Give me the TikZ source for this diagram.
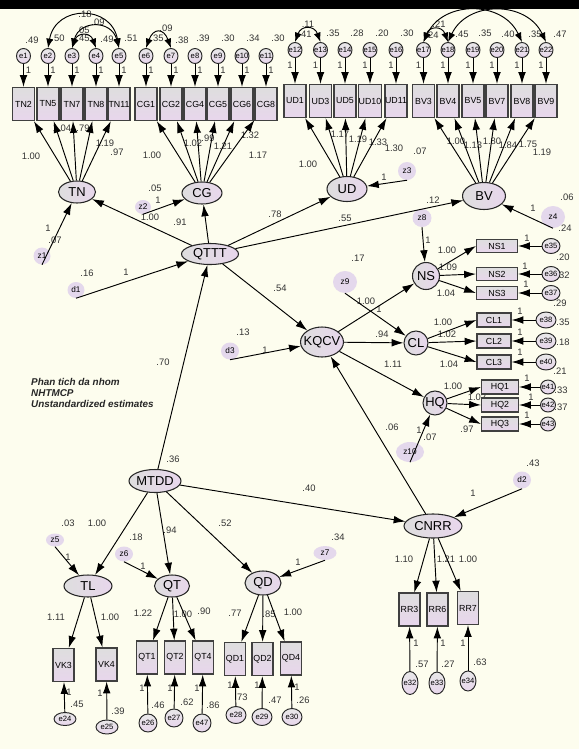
\documentclass[tikz,border=0pt]{standalone}
\usepackage{fontspec}
\setmainfont{Liberation Sans}
\usetikzlibrary{shapes.geometric,arrows.meta}
\definecolor{bgc}{RGB}{253,253,238}
\definecolor{lav}{RGB}{232,214,236}
\definecolor{gry}{RGB}{222,222,222}
\definecolor{blob}{RGB}{228,216,236}
\def\pxu{0.85pt}

\begin{document}
\begin{tikzpicture}[
    x=0.85pt,
    y=-0.85pt,
    lat/.style={ellipse,draw=black!85,line width=0.9pt,left color=gry,right color=lav,
        inner sep=0pt,inner xsep=-3pt,font=\fontsize{11}{12}\selectfont},
    fac/.style={circle,draw=black!85,line width=0.9pt,left color=gry,right color=lav,
        inner sep=0pt,font=\fontsize{11}{12}\selectfont},
    obs/.style={rectangle,draw=black!75,line width=1pt,top color=gry,bottom color=lav,
        inner sep=0pt,font=\fontsize{7.5}{8}\selectfont},
    err/.style={ellipse,draw=black!85,line width=0.8pt,top color=gry!70,bottom color=lav,
        inner sep=0pt,inner xsep=-2pt,font=\fontsize{6.5}{7}\selectfont},
    res/.style={ellipse,fill=blob,inner sep=0pt,font=\fontsize{7}{8}\selectfont},
    sz/.style 2 args={minimum width=#1*\pxu,minimum height=#2*\pxu},
    num/.style={inner sep=0pt,text=black!80,font=\fontsize{8}{9}\selectfont},
    reg/.style={-{Latex[length=10pt,width=6.5pt]},line width=0.8pt},
    cov/.style={{Latex[length=8pt,width=6pt]}-{Latex[length=8pt,width=6pt]},line width=0.8pt}
]
\fill[bgc] (0,0) rectangle (579,749);
\fill[black] (0,0) rectangle (579,9);
\useasboundingbox (0,0) rectangle (579,749);

% estimates
\foreach \t/\x/\y [count=\k] in {
    .18/85/14,.09/98/22,.05/83/30,
    .49/32/40,.50/58/38,.45/83/38,.49/107/39,.51/131/38,
    .35/157/38,.09/166/28,.38/182/40,.39/203/38,.30/228/38,.34/253/38,.30/278/38,
    .11/308/24,.41/305/34,.35/333/33,.28/357/33,.20/382/33,.30/407/33,
    .21/439/24,.24/432/35,.45/462/34,.35/485/33,.40/508/34,.35/535/34,.47/560/34,
    1.00/31/156,1.04/62/128,.79/83/128,1.19/105/143,.97/117/152,
    1.00/152/155,1.02/193/143,.99/208/138,1.21/223/146,1.32/250/135,1.17/258/155,
    1.00/308/164,1.17/340/134,1.19/358/139,1.33/378/142,1.30/394/148,
    1.00/456/141,1.13/473/145,1.80/492/141,1.84/508/145,1.75/528/144,1.19/542/152,
    .91/180/222,.78/275/214,.55/345/218,.12/433/200,.54/280/288,
    .16/87/273,1/126/272,.05/155/188,1/158/200,1.00/150/217,1/48/228,.07/55/240,
    .07/420/151,1/384/177,.06/567/197,1/533/208,.24/565/228,1/428/240,.17/358/258,
    1.00/366/301,1/379/309,.94/382/334,1.11/393/364,.13/243/332,1/265/350,
    .70/163/362,.36/173/459,.06/392/427,1/419/430,.07/430/437,
    .40/309/488,.43/533/463,1/473/493,
    1.00/97/523,.94/170/530,.52/225/523,.03/68/523,1/68/557,.18/136/537,1/143/566,
    .34/338/537,1/298/562,1.10/404/559,1.21/446/559,1.00/468/559,
    1.00/447/250,1.09/448/267,1.04/446/293,1/527/238,1/525/266,1/526/284,
    .20/563/257,.32/563/275,.29/560/303,
    1.00/443/322,1.02/447/334,1.04/449/364,1/520/311,1/520/332,1/520/352,
    .35/563/322,.18/563/342,.21/560/371,
    1.00/453/386,1.02/477/397,.97/467/429,1/527/378,1/531/397,1/527/415,
    .33/561/390,.37/561/407,
    1.11/56/617,1.00/110/617,1.22/143/613,1.00/183/614,.90/204/611,
    .77/235/613,.85/269/614,1.00/293/612,
    1/69/692,.45/77/704,1/100/693,.39/118/711,1/142/688,.46/158/705,
    1/170/688,.62/187/702,1/197/688,.86/213/705,1/230/685,.73/241/697,
    1/257/685,.47/275/700,1/297/687,.26/303/700,
    1/416/643,.57/422/664,1/443/643,.27/448/664,1/463/643,.63/480/662} {
    \node[num] (n\k) at (\x,\y) {\t};
}

\node[inner sep=0pt,anchor=west,align=left,text=black!85,
    font=\fontsize{8.4}{9.4}\selectfont\bfseries\itshape] (title) at (31,393)
    {Phan tich da nhom\\NHTMCP\\Unstandardized estimates};

% top indicators
\foreach \n/\x [count=\i] in {TN2/23.5,TN5/48,TN7/72,TN8/96,TN11/119,
    CG1/146,CG2/171,CG4/195,CG5/218,CG6/242,CG8/266} {
    \node[obs,sz={22}{33}] (\n) at (\x,104) {\n};
    \node[err,sz={14}{15}] (e\i) at (\x,56) {e\i};
    \node[num] (w\i) at (\x+5,70) {1};
    \draw[reg] (e\i) -- (\n);
}
\foreach \n/\x [count=\i from 12] in {UD1/295,UD3/320.5,UD5/345,UD10/370,UD11/396,
    BV3/423.5,BV4/448,BV5/473,BV7/497,BV8/522,BV9/546} {
    \node[obs,sz={22}{33}] (\n) at (\x,101) {\n};
    \node[err,sz={14}{15}] (e\i) at (\x,50) {e\i};
    \node[num] (w\i) at (\x-5,65) {1};
    \draw[reg] (e\i) -- (\n);
}

\draw[cov] (e2.north) to[out=80,in=100,looseness=1.6] (e5.north);
\draw[cov] (e3.north) to[out=75,in=105,looseness=1.6] (e5.north);
\draw[cov] (e3.north) to[out=70,in=110,looseness=1.8] (e4.north);
\draw[cov] (e6.north) to[out=70,in=110,looseness=2.2] (e7.north);
\draw[cov] (e12.north) to[out=70,in=110,looseness=1.8] (e13.north);
\draw[cov] (e17.north) to[out=70,in=110,looseness=1.8] (e18.north);
\draw[cov] (e17.north) to[out=65,in=115,looseness=1.2] (e21.north);
\draw[cov] (e18.north) to[out=65,in=115,looseness=1.2] (e22.north);

% latent variables
\node[lat,sz={37}{22}] (TN) at (77,192) {TN};
\node[lat,sz={40}{22}] (CG) at (202,193) {CG};
\node[lat,sz={40}{25}] (UD) at (347,189) {UD};
\node[lat,sz={43}{27}] (BV) at (484,196) {BV};
\node[lat,sz={57}{21}] (QTTT) at (210,254) {QTTT};
\node[lat,sz={43}{30}] (KQCV) at (322,342) {KQCV};
\node[fac,minimum size=27*\pxu] (NS) at (426,276) {NS};
\node[fac,minimum size=24*\pxu] (CL) at (416,343) {CL};
\node[fac,minimum size=24*\pxu] (HQ) at (435,403) {HQ};
\node[lat,sz={52}{23}] (MTDD) at (155,481) {MTDD};
\node[lat,sz={58}{24}] (CNRR) at (433,526) {CNRR};
\node[lat,sz={48}{22}] (TL) at (88,586) {TL};
\node[lat,sz={35}{22}] (QT) at (172,586) {QT};
\node[lat,sz={36}{24}] (QD) at (263,583) {QD};

% disturbances
\node[res,sz={17}{17}] (z1) at (42,256) {z1};
\node[res,sz={16}{14}] (z2) at (143,207) {z2};
\node[res,sz={17}{16}] (d1) at (76,290) {d1};
\node[res,sz={18}{18}] (z3) at (407,171) {z3};
\node[res,sz={24}{22}] (z4) at (553,217) {z4};
\node[res,sz={19}{18}] (z8) at (422,218) {z8};
\node[res,sz={24}{22}] (z9) at (345,282) {z9};
\node[res,sz={28}{20}] (z10) at (410,452) {z10};
\node[res,sz={18}{17}] (d3) at (230,351) {d3};
\node[res,sz={18}{17}] (d2) at (522,480) {d2};
\node[res,sz={18}{13}] (z5) at (55,540) {z5};
\node[res,sz={18}{15}] (z6) at (124,554) {z6};
\node[res,sz={23}{14}] (z7) at (325,553) {z7};

% right indicators
\foreach \n/\e/\y in {NS1/e35/246,NS2/e36/274,NS3/e37/293} {
    \node[obs,sz={41}{13}] (\n) at (497,\y) {\n};
    \node[err,sz={18}{15}] (\e) at (551,\y) {\e};
    \draw[reg] (NS) -- (\n.west);
    \draw[reg] (\e) -- (\n);
}
\foreach \n/\e/\y in {CL1/e38/320,CL2/e39/341,CL3/e40/362} {
    \node[obs,sz={34}{14}] (\n) at (494,\y) {\n};
    \node[err,sz={20}{16}] (\e) at (546,\y) {\e};
    \draw[reg] (CL) -- (\n.west);
    \draw[reg] (\e) -- (\n);
}
\foreach \n/\e/\y in {HQ1/e41/387,HQ2/e42/405,HQ3/e43/424} {
    \node[obs,sz={37}{14}] (\n) at (500,\y) {\n};
    \node[err,sz={15}{14}] (\e) at (548,\y) {\e};
    \draw[reg] (HQ) -- (\n.west);
    \draw[reg] (\e) -- (\n);
}

% bottom indicators
\foreach \n/\x/\y/\e/\ex/\ey/\ew/\eh in {
    VK3/63.5/665/e24/65/719/22/13, VK4/106.5/664.5/e25/107/727/22/14,
    QT1/147/657.5/e26/148/723/18/18, QT2/175/657.5/e27/174/718/18/18,
    QT4/203/657.5/e47/202/723/18/18, QD1/235/659/e28/236/715/20/17,
    QD2/262.5/659/e29/262/717/20/17, QD4/291/658.5/e30/292/717/20/17,
    RR3/409.5/609.5/e32/410/683/16/23, RR6/437.5/609.5/e33/437/683/16/22,
    RR7/468/608/e34/468/681/16/20} {
    \node[obs,sz={21}{33}] (\n) at (\x,\y) {\n};
    \node[err,sz={\ew}{\eh}] (\e) at (\ex,\ey) {\e};
    \draw[reg] (\e) -- (\n);
}

% loadings
\foreach \n in {TN2,TN5,TN7,TN8,TN11} {\draw[reg] (TN) -- (\n);}
\foreach \n in {CG1,CG2,CG4,CG5,CG6,CG8} {\draw[reg] (CG) -- (\n);}
\foreach \n in {UD1,UD3,UD5,UD10,UD11} {\draw[reg] (UD) -- (\n);}
\foreach \n in {BV3,BV4,BV5,BV7,BV8,BV9} {\draw[reg] (BV) -- (\n);}
\foreach \n in {VK3,VK4} {\draw[reg] (TL) -- (\n);}
\foreach \n in {QT1,QT2,QT4} {\draw[reg] (QT) -- (\n);}
\foreach \n in {QD1,QD2,QD4} {\draw[reg] (QD) -- (\n);}
\foreach \n in {RR3,RR6,RR7} {\draw[reg] (CNRR) -- (\n);}

% structural paths
\foreach \n in {TN,CG,UD,BV,KQCV} {\draw[reg] (QTTT) -- (\n);}
\foreach \n in {NS,CL,HQ} {\draw[reg] (KQCV) -- (\n);}
\foreach \n in {QTTT,CNRR,TL,QT,QD} {\draw[reg] (MTDD) -- (\n);}
\draw[reg] (CNRR) -- (KQCV);
\foreach \z/\n in {z1/TN,z2/CG,z3/UD,z4/BV,d1/QTTT,d3/KQCV,z8/NS,z9/CL,z10/HQ,
    d2/CNRR,z5/TL,z6/QT,z7/QD} {
    \draw[reg] (\z.south) -- (\n);
}
\end{tikzpicture}
\end{document}
